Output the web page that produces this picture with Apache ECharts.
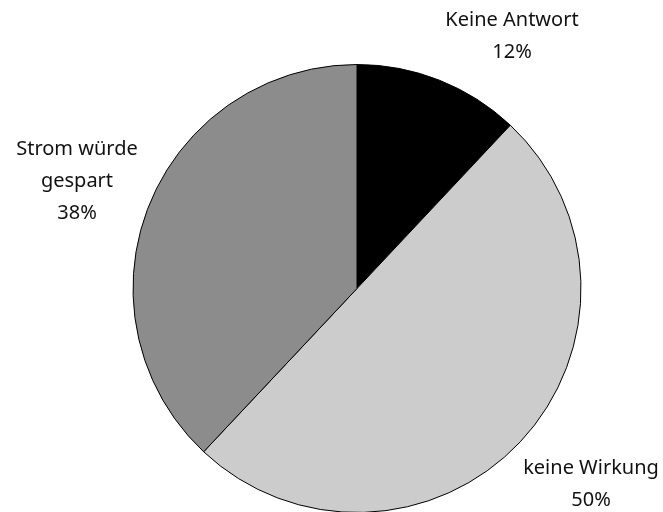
<!DOCTYPE html>
<html>
<head>
<meta charset="utf-8">
<script src="https://cdn.jsdelivr.net/npm/echarts@6/dist/echarts.min.js"></script>
<style>html,body{margin:0;padding:0;background:#fff;}#c{width:663px;height:512px;}</style>
</head>
<body>
<div id="c"></div>
<script>
const categories = ["Keine Antwort", "keine Wirkung", "Strom würde\ngespart"];
const values = [12, 50, 38];
const colors = ["#000000", "#cccccc", "#8c8c8c"];

const labelPos = [
  { x: 512, y: 36 },
  { x: 591, y: 484 },
  { x: 77, y: 181 }
];

const chart = echarts.init(document.getElementById('c'), null, { renderer: 'canvas' });
chart.setOption({
  backgroundColor: '#ffffff',
  animation: false,
  series: [{
    type: 'pie',
    center: [357, 288.5],
    radius: 224,
    startAngle: 90,
    clockwise: true,
    data: categories.map((n, i) => ({ name: n, value: values[i], itemStyle: { color: colors[i] } })),
    itemStyle: { borderColor: '#000000', borderWidth: 1 },
    label: {
      show: true,
      position: 'outside',
      formatter: p => p.name + '\n' + p.value + '%',
      fontFamily: 'Noto Sans',
      fontSize: 20,
      lineHeight: 32,
      color: '#111111',
      align: 'center',
      overflow: 'none',
      width: 200
    },
    labelLine: { show: false },
    labelLayout: function (params) {
      const pos = labelPos[params.dataIndex];
      return { x: pos.x, y: pos.y, align: 'center', verticalAlign: 'middle', hideOverlap: false };
    },
    emphasis: { disabled: true }
  }]
});
</script>
</body>
</html>
